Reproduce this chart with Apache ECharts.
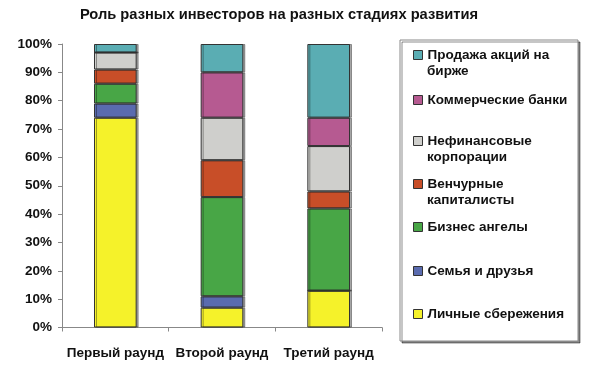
<!DOCTYPE html>
<html><head><meta charset="utf-8">
<script src="https://cdn.jsdelivr.net/npm/echarts@6/dist/echarts.min.js"></script>
<style>html,body{margin:0;padding:0;background:#fff}#c{width:600px;height:371px}</style>
</head><body><div id="c"></div>
<script>
var categories = ['Первый раунд', 'Второй раунд', 'Третий раунд'];
var seriesNames = ['Личные сбережения', 'Семья и друзья', 'Бизнес ангелы', 'Венчурные\nкапиталисты', 'Нефинансовые\nкорпорации', 'Коммерческие банки', 'Продажа акций на\nбирже'];
var personalSavings = [74, 7, 13];
var familyFriends = [5, 4, 0];
var businessAngels = [7, 35, 29];
var ventureCapital = [5, 13, 6];
var nonFinancialCorp = [6, 15, 16];
var commercialBanks = [0, 16, 10];
var stockSale = [3, 10, 26];
var yTicks = ['0%','10%','20%','30%','40%','50%','60%','70%','80%','90%','100%'];

var values = [personalSavings, familyFriends, businessAngels, ventureCapital, nonFinancialCorp, commercialBanks, stockSale];
var colors = ['#F5F22A', '#5A6BAF', '#48A646', '#C84E28', '#CFCFCC', '#B65A91', '#5AADB3'];
var iconCenters = [314, 271, 227, 184, 141, 100, 55];
var font = 'Liberation Sans, Arial, sans-serif';
var fs = 13.5;

var series = values.map(function (v, i) {
  return {
    name: seriesNames[i], type: 'bar', stack: 's', data: v, barWidth: '40%',
    itemStyle: { color: colors[i], borderColor: '#333', borderWidth: 1,
      shadowColor: 'rgba(0,0,0,0.35)', shadowOffsetX: 2, shadowOffsetY: 0, shadowBlur: 0 }
  };
});

var legends = seriesNames.map(function (n, i) {
  return {
    data: [n], orient: 'vertical', left: 413, top: iconCenters[i] - 7.5, padding: 0,
    itemWidth: 9, itemHeight: 9, icon: 'rect', selectedMode: false,
    formatter: function (name) { return name.split('\n')[0]; },
    itemStyle: { borderColor: '#333', borderWidth: 1 },
    textStyle: { fontFamily: font, fontWeight: 'bold', fontSize: fs, color: '#111', lineHeight: 15 }
  };
});

var graphics = [{ type: 'rect', shape: { x: 400, y: 40, width: 178, height: 301 },
  style: { fill: '#fff', stroke: '#888', lineWidth: 1, shadowColor: 'rgba(0,0,0,0.45)', shadowOffsetX: 2, shadowOffsetY: 2, shadowBlur: 0 }, z: -1 }];
seriesNames.forEach(function (n, i) {
  var parts = n.split('\n');
  if (parts.length > 1) {
    graphics.push({ type: 'text', left: 427, top: iconCenters[i] + 16 - 7.5,
      style: { text: parts[1], fontFamily: font, fontWeight: 'bold', fontSize: fs, fill: '#111', lineHeight: 15 } });
  }
});

var chart = echarts.init(document.getElementById('c'));
chart.setOption({
  animation: false,
  backgroundColor: '#fff',
  title: { text: 'Роль разных инвесторов на разных стадиях развития', left: 274, textAlign: 'center', top: 2,
    textStyle: { fontFamily: font, fontWeight: 'bold', fontSize: 14.7, color: '#111' } },
  graphic: graphics,
  legend: legends,
  grid: { left: 62, right: 218, top: 44, bottom: 43.5 },
  xAxis: { type: 'category', data: categories,
    axisLine: { lineStyle: { color: '#888' } },
    axisTick: { show: true, length: 4, lineStyle: { color: '#888' } },
    axisLabel: { interval: 0, fontFamily: font, fontWeight: 'bold', fontSize: fs, color: '#111', margin: 19 } },
  yAxis: { type: 'value', min: 0, max: 100, interval: 10,
    axisLine: { show: true, lineStyle: { color: '#888' } },
    axisTick: { show: true, length: 4, lineStyle: { color: '#888' } },
    splitLine: { show: false },
    axisLabel: { fontFamily: font, fontWeight: 'bold', fontSize: fs, color: '#111', margin: 10,
      formatter: function (v) { return yTicks[Math.round(v / 10)]; } } },
  series: series
});
</script></body></html>
